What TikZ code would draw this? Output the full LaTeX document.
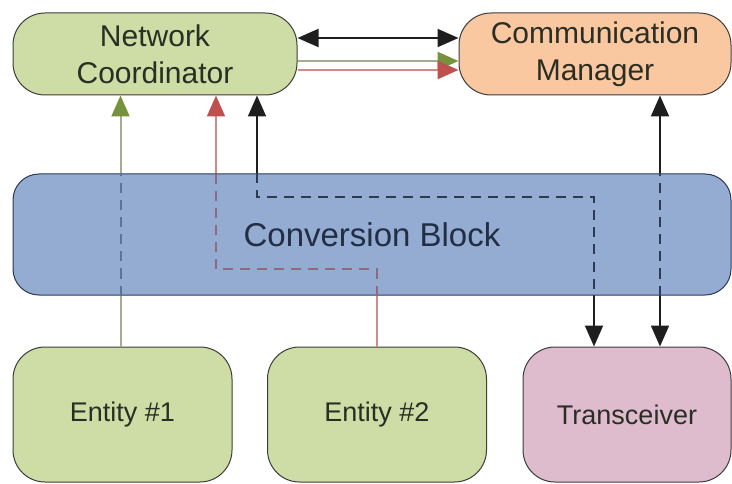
\documentclass[tikz,border=0pt]{standalone}
\usepackage{fontspec}
\setmainfont{Liberation Sans}
\usepackage{tikz}
\usetikzlibrary{arrows.meta}
\definecolor{leaf}{HTML}{CDDDA5}
\definecolor{peach}{HTML}{FAC8A0}
\definecolor{sky}{HTML}{94ACD2}
\definecolor{rose}{HTML}{DEBCCE}
\definecolor{edge}{HTML}{3C3C3C}
\definecolor{navy}{HTML}{2B3A55}
\definecolor{ink}{HTML}{2A2E24}
\definecolor{wire}{HTML}{1E1E1E}
\definecolor{gwire}{HTML}{A3AC8C}
\definecolor{gtip}{HTML}{76923C}
\definecolor{gdash}{HTML}{5E7392}
\definecolor{rwire}{HTML}{D08A88}
\definecolor{rtip}{HTML}{C0504D}
\definecolor{rdash}{HTML}{8E6A7E}
\tikzstyle{block}   = [rectangle, rounded corners=32pt, draw=edge, line width=1pt, align=center, text=ink]
\tikzstyle{coord}   = [block, minimum width=284pt, minimum height=82pt, fill=leaf, font=\fontsize{30}{37}\selectfont]
\tikzstyle{manager} = [block, minimum width=272pt, minimum height=82pt, fill=peach, font=\fontsize{30}{37}\selectfont]
\tikzstyle{convert} = [block, rounded corners=26pt, draw=navy, minimum width=718pt, minimum height=121pt, fill=sky, text=navy!80!black, font=\fontsize{33}{40}\selectfont]
\tikzstyle{entity}  = [block, minimum width=219pt, minimum height=135pt, fill=leaf, font=\fontsize{27}{32}\selectfont]
\tikzstyle{radio}   = [block, minimum width=208pt, minimum height=135pt, fill=rose, font=\fontsize{27}{32}\selectfont]
\tikzstyle{arrow}   = [line width=2pt, draw=wire, >={Triangle[length=21pt,width=18pt]}]
\tikzstyle{garrow}  = [line width=2.4pt, draw=gwire, -{Triangle[length=21pt,width=18pt,color=gtip]}]
\tikzstyle{rarrow}  = [line width=2.4pt, draw=rwire, -{Triangle[length=21pt,width=18pt,color=rtip]}]
\tikzstyle{hidden}  = [line width=2pt, dash pattern=on 10pt off 7pt]

\begin{document}
\begin{tikzpicture}[x=1pt, y=1pt]

    \useasboundingbox (0,0) rectangle (732,483);

    \node (nc)   [coord]   at (155,429)   {Network\\Coordinator};
    \node (cm)   [manager] at (595,429)   {Communication\\Manager};
    \node (ent1) [entity]  at (122.5,68.5) {Entity \#1};
    \node (ent2) [entity]  at (377,68.5)  {Entity \#2};
    \node (tr)   [radio]   at (627,68.5)  {Transceiver};

    \draw [arrow, <->] ([yshift=16pt]nc.east) -- ([yshift=16pt]cm.west);
    \draw [garrow] ([yshift=-7pt]nc.east) -- ([yshift=-7pt]cm.west);
    \draw [rarrow] ([yshift=-16pt]nc.east) -- ([yshift=-16pt]cm.west);

    % links through the conversion block, the block is laid over them
    \draw [garrow, line width=2pt] ([xshift=-2pt]ent1.north) -- ([xshift=-2pt]ent1.north |- nc.south);
    \draw [rarrow, line width=2pt] (ent2.north) -- ++(0,78) -| ([xshift=61pt]nc.south);
    \draw [arrow, <->] ([xshift=102pt]nc.south) -- ++(0,-103) -| ([xshift=-33pt]tr.north);
    \draw [arrow, <->] ([xshift=65pt]cm.south) -- ([xshift=33pt]tr.north);

    \node (cb) [convert] at (372,248.5) {Conversion Block};

    % dashed parts seen through the block
    \draw [hidden, draw=gdash] ([xshift=-2pt]ent1.north |- cb.south) -- ([xshift=-2pt]ent1.north |- cb.north);
    \draw [hidden, draw=rdash] (ent2.north |- cb.south) -- ++(0,26) -| ([xshift=61pt]nc.south |- cb.north);
    \draw [hidden, draw=navy] ([xshift=102pt]nc.south |- cb.north) -- ++(0,-24) -| ([xshift=-33pt]tr.north |- cb.south);
    \draw [hidden, draw=navy] ([xshift=33pt]tr.north |- cb.south) -- ([xshift=33pt]tr.north |- cb.north);

\end{tikzpicture}
\end{document}
